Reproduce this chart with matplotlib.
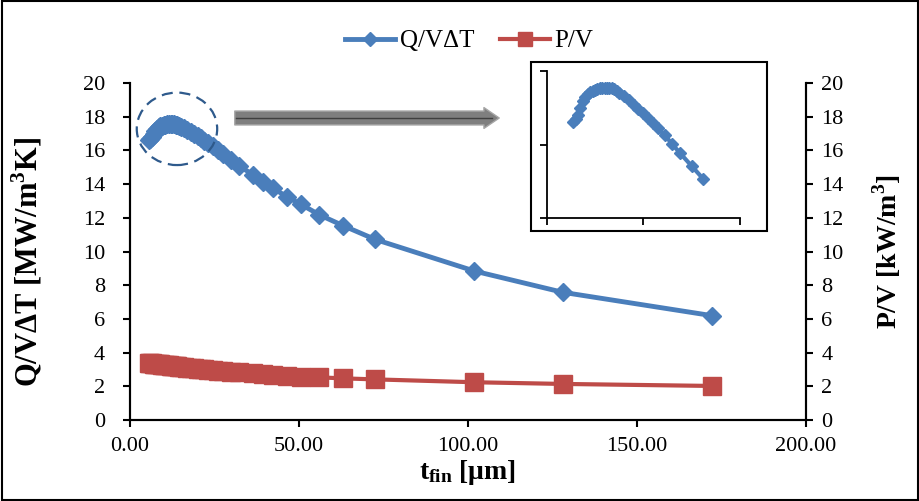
import matplotlib.pyplot as plt
from matplotlib.patches import Ellipse, Rectangle, FancyArrowPatch

plt.rcParams["font.family"] = ["Liberation Serif", "DejaVu Serif"]
plt.rcParams["mathtext.fontset"] = "custom"
plt.rcParams["mathtext.rm"] = "Liberation Serif"
plt.rcParams["mathtext.bf"] = "Liberation Serif:bold"

# fin thickness [um]
t_fin = [5.5, 6.0, 6.5, 7.0, 7.5, 8.0, 8.5, 9.0, 9.5, 10.0, 10.5, 11.0, 11.5,
         12.0, 12.5, 13.0, 13.5, 14.0, 14.5, 15.0, 16.0, 17.0, 18.0, 19.0,
         20.0, 21.0, 22.0, 23.0, 24.5, 26.0, 27.6, 30.0, 32.4, 36.5, 39.4,
         42.4, 46.4, 50.6, 56.0, 63.1, 72.5, 101.9, 128.0, 172.3]

# heat transfer per volume and temperature difference [MW/m3K]
q_vdt = [16.62, 16.70, 16.80, 16.99, 17.18, 17.29, 17.37, 17.42, 17.46, 17.49,
         17.52, 17.54, 17.55, 17.55, 17.55, 17.54, 17.53, 17.50, 17.46, 17.41,
         17.32, 17.21, 17.09, 16.97, 16.85, 16.72, 16.58, 16.44, 16.25, 16.01,
         15.77, 15.42, 15.07, 14.54, 14.14, 13.75, 13.25, 12.80, 12.18, 11.53,
         10.72, 8.84, 7.58, 6.19]

# pumping power per volume [kW/m3]
p_v = [3.38, 3.37, 3.36, 3.35, 3.33, 3.32, 3.31, 3.30, 3.28, 3.27, 3.26, 3.25,
       3.24, 3.22, 3.21, 3.20, 3.19, 3.18, 3.16, 3.15, 3.13, 3.11, 3.09, 3.07,
       3.05, 3.03, 3.01, 2.99, 2.96, 2.93, 2.90, 2.86, 2.83, 2.77, 2.73, 2.69,
       2.63, 2.58, 2.53, 2.47, 2.41, 2.24, 2.14, 2.02]

x_ticks = [0, 50, 100, 150, 200]
y_ticks = list(range(0, 21, 2))

blue = "#4a7ebb"
red = "#be4b48"

fig = plt.figure(figsize=(9.2, 5.01), dpi=100)
ax = fig.add_axes([0.1413, 0.1617, 0.7347, 0.6726])
ax2 = ax.twinx()

l1, = ax.plot(t_fin, q_vdt, color=blue, lw=3.5, marker="D", ms=9.5,
              label="Q/V\u0394T", zorder=3)
l2, = ax2.plot(t_fin, p_v, color=red, lw=3, marker="s", ms=12.5,
               label="P/V", zorder=3)

for a in (ax, ax2):
    a.set_xlim(0, 200)
    a.set_ylim(0, 20)
    a.set_yticks(y_ticks)
    a.spines["top"].set_visible(False)
    for s in a.spines.values():
        s.set_linewidth(1.5)
    a.tick_params(direction="out", length=5, width=1.5, labelsize=16)
ax.tick_params(axis="y", pad=13)
ax2.tick_params(axis="y", pad=6)
ax.set_xticks(x_ticks)
ax.set_xticklabels([f"{v:.2f}" for v in x_ticks])
ax.tick_params(axis="x", pad=7)

ax.set_ylabel("Q/V\u0394T [MW/m$^\\mathbf{3}$K]", fontsize=22,
              fontweight="bold")
ax.yaxis.set_label_coords(-0.127, 0.47)
ax2.set_ylabel("P/V [kW/m$^\\mathbf{3}$]", fontsize=20, fontweight="bold")
ax2.yaxis.set_label_coords(1.095, 0.5)
ax.set_xlabel("$\\mathbf{t_{fin}}$ [\u03bcm]", fontsize=20,
              fontweight="bold", labelpad=2)

fig.legend(handles=[l1, l2], loc="center", bbox_to_anchor=(0.51, 0.918),
           ncol=2, frameon=False, fontsize=18, handlelength=2.0,
           columnspacing=1.0, handletextpad=0.2, markerscale=0.8)

# dashed circle around the maximum
ax.add_patch(Ellipse((13.9, 17.28), 23.8, 4.3, fill=False, ls=(0, (5, 3)),
                     lw=1.6, color="#2e5a8c", zorder=4))

# arrow pointing to the zoomed view
arrow = FancyArrowPatch((232 / 920, 1 - 118 / 501), (502 / 920, 1 - 118 / 501),
                        transform=fig.transFigure,
                        arrowstyle="simple,head_width=1.5,head_length=1.1,tail_width=1.0",
                        mutation_scale=10, fc="#7f7f7f", ec="#a6a6a6", lw=1)
fig.patches.append(arrow)
fig.add_artist(plt.Line2D([236 / 920, 492 / 920], [1 - 118 / 501] * 2,
                          transform=fig.transFigure, color="#404040", lw=1))

# zoomed view of the maximum
fig.patches.append(Rectangle((0.5768, 0.5395), 0.2568, 0.3361, fill=False,
                             ec="black", lw=1.5, transform=fig.transFigure))
ins = fig.add_axes([0.5942, 0.5643, 0.2101, 0.2940])
n_zoom = t_fin.index(32.4) + 1
ins.plot(t_fin[:n_zoom], q_vdt[:n_zoom], color=blue, lw=3, marker="D",
         ms=6.5)
ins.set_xlim(0, 40)
ins.set_ylim(14, 18)
ins.set_xticks([0, 20, 40])
ins.set_yticks([14, 16, 18])
ins.set_xticklabels([])
ins.set_yticklabels([])
ins.spines["top"].set_visible(False)
ins.spines["right"].set_visible(False)
for s in ins.spines.values():
    s.set_linewidth(1.3)
ins.tick_params(direction="out", length=5, width=1.3)

# outer frame
fig.patches.append(Rectangle((0.002, 0.002), 0.996, 0.996, fill=False,
                             ec="black", lw=1.5, transform=fig.transFigure))

fig.savefig("out.png", dpi=100)
